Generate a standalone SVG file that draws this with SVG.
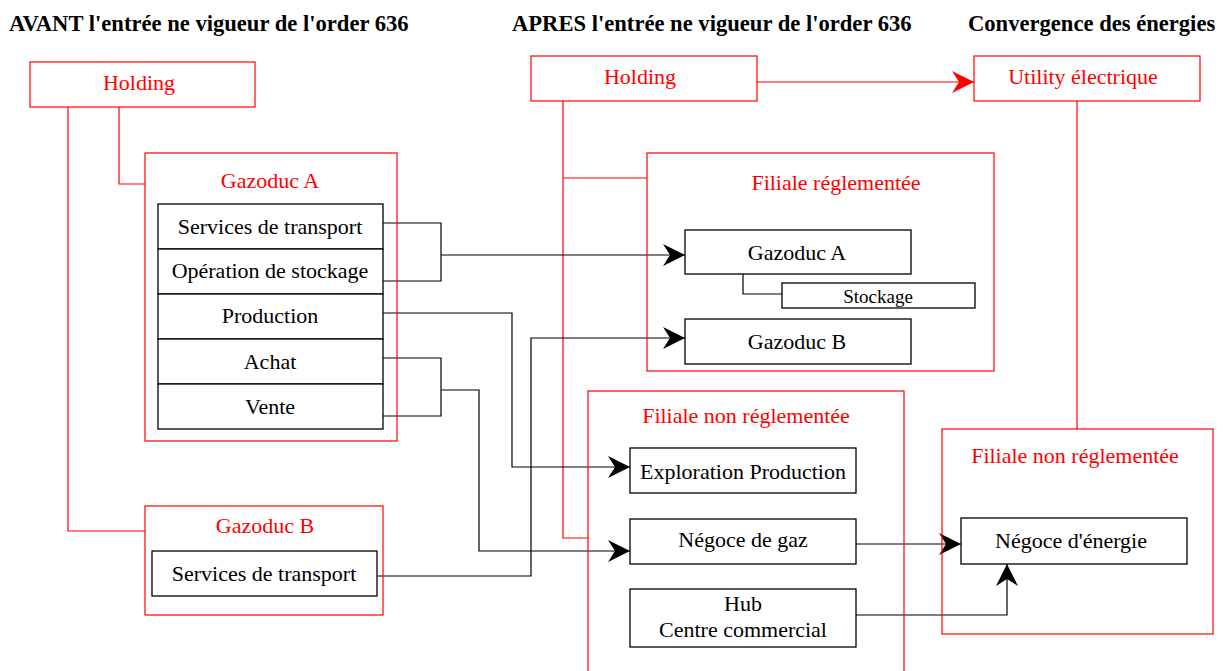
<svg xmlns="http://www.w3.org/2000/svg" width="1226" height="671" viewBox="0 0 1226 671">
<style>
text{font-family:"Liberation Serif","Times New Roman",serif;font-size:22px;fill:#000;text-anchor:middle}
.t{font-weight:bold;font-size:22.6px;text-anchor:start}
.r{fill:#ff0000}
.sm{font-size:19px}
.rb{fill:none;stroke:#ff0000;stroke-width:1.2}
.bb{fill:#fff;stroke:#000;stroke-width:1.3}
.rl{fill:none;stroke:#ff0000;stroke-width:1.2}
.bl{fill:none;stroke:#000;stroke-width:1.2}
</style>
<defs>
<marker id="ah" viewBox="-23 -12 24 24" refX="0" refY="0" markerWidth="24" markerHeight="24" markerUnits="userSpaceOnUse" orient="auto">
<path d="M-22,-11 L0,0 L-22,11 L-15,0 Z" fill="#000"/>
</marker>
<marker id="ahr" viewBox="-23 -12 24 24" refX="0" refY="0" markerWidth="24" markerHeight="24" markerUnits="userSpaceOnUse" orient="auto">
<path d="M-22,-11 L0,0 L-22,11 L-15,0 Z" fill="#ff0000"/>
</marker>
</defs>
<rect width="1226" height="671" fill="#fff"/>
<g id="titles">
<text class="t" x="9" y="31">AVANT l'entrée ne vigueur de l'order 636</text>
<text class="t" x="512" y="31">APRES l'entrée ne vigueur de l'order 636</text>
<text class="t" x="968" y="31">Convergence des énergies</text>
</g>
<g id="connectors">
<path class="rl" d="M68,107 V531 H145"/>
<path class="rl" d="M119,107 V184 H145"/>
<path class="rl" d="M563,101 V538 H588"/>
<path class="rl" d="M563,178 H647"/>
<path class="rl" d="M1077,101 V429"/>
<path class="rl" d="M757,82 H974" marker-end="url(#ahr)"/>
<path class="bl" d="M383,223 H441 V281 H383"/>
<path class="bl" d="M441,255 H685" marker-end="url(#ah)"/>
<path class="bl" d="M383,313 H512 V467 H630" marker-end="url(#ah)"/>
<path class="bl" d="M383,358 H441 V416 H383"/>
<path class="bl" d="M441,390 H479 V551 H630" marker-end="url(#ah)"/>
<path class="bl" d="M377,576 H531 V338 H685" marker-end="url(#ah)"/>
<path class="bl" d="M856,544 H961" marker-end="url(#ah)"/>
<path class="bl" d="M856,615 H1007 V564" marker-end="url(#ah)"/>
<path class="bl" d="M743,274 V294 H782"/>
</g>
<g id="holding-avant">
<rect class="rb" x="30" y="62" width="225" height="45"/>
<text class="r" x="139" y="90">Holding</text>
</g>
<g id="gazoduc-a-avant">
<rect class="rb" x="145" y="153" width="252" height="288"/>
<text class="r" x="270" y="188">Gazoduc A</text>
</g>
<g id="services-transport-a">
<rect class="bb" x="158" y="204" width="225" height="45"/>
<text x="270" y="234">Services de transport</text>
</g>
<g id="operation-stockage">
<rect class="bb" x="158" y="249" width="225" height="45"/>
<text x="270" y="278">Opération de stockage</text>
</g>
<g id="production">
<rect class="bb" x="158" y="294" width="225" height="45"/>
<text x="270" y="323">Production</text>
</g>
<g id="achat">
<rect class="bb" x="158" y="339" width="225" height="45"/>
<text x="270" y="369">Achat</text>
</g>
<g id="vente">
<rect class="bb" x="158" y="384" width="225" height="45"/>
<text x="270" y="414">Vente</text>
</g>
<g id="gazoduc-b-avant">
<rect class="rb" x="145" y="506" width="238" height="109"/>
<text class="r" x="265" y="533">Gazoduc B</text>
</g>
<g id="services-transport-b">
<rect class="bb" x="152" y="551" width="225" height="45"/>
<text x="264" y="581">Services de transport</text>
</g>
<g id="holding-apres">
<rect class="rb" x="531" y="56" width="226" height="45"/>
<text class="r" x="640" y="84">Holding</text>
</g>
<g id="utility">
<rect class="rb" x="974" y="56" width="226" height="45"/>
<text class="r" x="1083" y="84">Utility électrique</text>
</g>
<g id="filiale-reglementee">
<rect class="rb" x="647" y="153" width="347" height="218"/>
<text class="r" x="836" y="190">Filiale réglementée</text>
</g>
<g id="gazoduc-a-apres">
<rect class="bb" x="685" y="230" width="226" height="44"/>
<text x="797" y="260">Gazoduc A</text>
</g>
<g id="stockage">
<rect class="bb" x="782" y="283" width="193" height="25"/>
<text class="sm" x="878" y="303">Stockage</text>
</g>
<g id="gazoduc-b-apres">
<rect class="bb" x="685" y="319" width="226" height="45"/>
<text x="797" y="349">Gazoduc B</text>
</g>
<g id="filiale-non-reg-gaz">
<rect class="rb" x="588" y="391" width="316" height="300"/>
<text class="r" x="746" y="423">Filiale non réglementée</text>
</g>
<g id="exploration-production">
<rect class="bb" x="630" y="448" width="226" height="45"/>
<text x="743" y="479">Exploration Production</text>
</g>
<g id="negoce-gaz">
<rect class="bb" x="630" y="519" width="226" height="45"/>
<text x="743" y="547">Négoce de gaz</text>
</g>
<g id="hub">
<rect class="bb" x="630" y="589" width="226" height="58"/>
<text x="743" y="611">Hub</text>
<text x="743" y="637">Centre commercial</text>
</g>
<g id="filiale-non-reg-energie">
<rect class="rb" x="942" y="429" width="271" height="205"/>
<text class="r" x="1075" y="463">Filiale non réglementée</text>
</g>
<g id="negoce-energie">
<rect class="bb" x="961" y="518" width="226" height="46"/>
<text x="1071" y="548">Négoce d'énergie</text>
</g>
</svg>
